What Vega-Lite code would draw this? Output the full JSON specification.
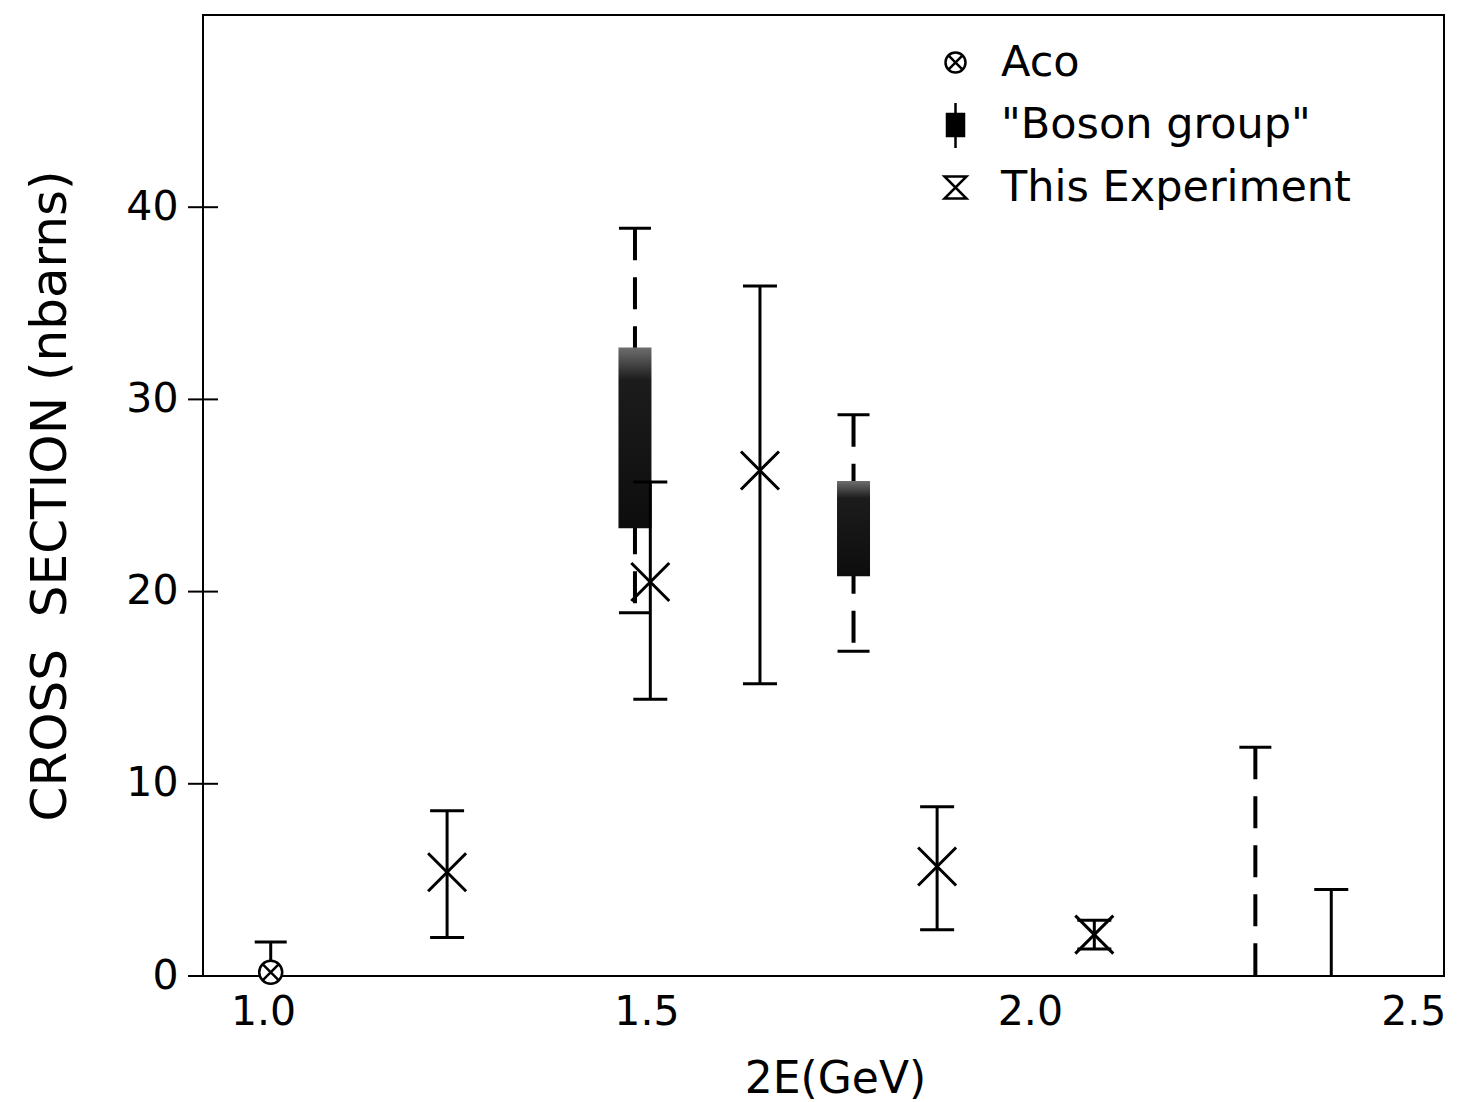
{
  "$schema": "https://vega.github.io/schema/vega-lite/v6.json",
  "width": 1241,
  "height": 961,
  "autosize": {"type": "none"},
  "padding": {"left": 203, "top": 15, "right": 18, "bottom": 126},
  "background": "white",
  "config": {
    "view": {"stroke": "black", "strokeWidth": 2},
    "font": "DejaVu Sans",
    "axis": {"domain": false, "ticks": false, "grid": false, "labelColor": "black", "titleColor": "black", "labelFont": "DejaVu Sans", "titleFont": "DejaVu Sans", "titleFontWeight": "normal"}
  },
  "datasets": {
    "yticks": [{"t": 0}, {"t": 10}, {"t": 20}, {"t": 30}, {"t": 40}],
    "aco": [{"x": 1.01, "y": 0.2, "hi": 1.77}],
    "boson": [
      {"x": 1.485, "lo": 18.9, "hi": 38.9, "blo": 23.3, "bhi": 32.7},
      {"x": 1.770, "lo": 16.9, "hi": 29.2, "blo": 20.8, "bhi": 25.75},
      {"x": 2.294, "lo": 0, "hi": 11.9}
    ],
    "exp": [
      {"x": 1.240, "y": 5.4, "lo": 2.0, "hi": 8.6},
      {"x": 1.505, "y": 20.5, "lo": 14.4, "hi": 25.7},
      {"x": 1.648, "y": 26.3, "lo": 15.2, "hi": 35.9},
      {"x": 1.879, "y": 5.7, "lo": 2.4, "hi": 8.8},
      {"x": 2.084, "y": 2.15, "lo": 1.4, "hi": 2.9},
      {"x": 2.393, "lo": 0, "hi": 4.5}
    ],
    "legend": [{"series": "Aco"}, {"series": "\"Boson group\""}, {"series": "This Experiment"}]
  },
  "layer": [
    {
      "data": {"name": "yticks"},
      "mark": {"type": "rule", "strokeWidth": 2, "color": "black"},
      "encoding": {
        "y": {"field": "t", "type": "quantitative", "scale": {"domain": [0, 50], "nice": false, "zero": false},
          "axis": {"values": [0, 10, 20, 30, 40], "title": "CROSS\u00a0 SECTION (nbarns)", "labelFontSize": 41, "labelPadding": 25, "titleFontSize": 50, "titlePadding": 50}},
        "x": {"datum": 0.9021, "type": "quantitative", "scale": {"domain": [0.9217, 2.54], "nice": false, "zero": false},
          "axis": {"values": [1.0, 1.5, 2.0, 2.5], "format": ".1f", "title": "2E(GeV)", "labelFontSize": 41, "labelPadding": 16, "titleFontSize": 44, "titlePadding": 25, "titleX": 632}},
        "x2": {"datum": 0.9413}
      }
    },
    {
      "mark": {"type": "rule", "strokeWidth": 2, "color": "black"},
      "encoding": {
        "x": {"datum": 2.5, "type": "quantitative"},
        "y": {"datum": -0.676, "type": "quantitative"},
        "y2": {"datum": 0.676}
      }
    },
    {
      "data": {"name": "boson"},
      "mark": {"type": "rule", "strokeWidth": 4, "strokeDash": [32, 17], "color": "black"},
      "encoding": {
        "x": {"field": "x", "type": "quantitative"},
        "y": {"field": "hi", "type": "quantitative"},
        "y2": {"field": "lo"}
      }
    },
    {
      "data": {"name": "boson"},
      "transform": [{"fold": ["lo", "hi"], "as": ["k", "v"]}, {"filter": "datum.v > 0"}],
      "mark": {"type": "rule", "strokeWidth": 3, "color": "black", "xOffset": -16, "x2Offset": 16},
      "encoding": {
        "x": {"field": "x", "type": "quantitative"},
        "x2": {"field": "x"},
        "y": {"field": "v", "type": "quantitative"}
      }
    },
    {
      "data": {"name": "boson"},
      "transform": [{"filter": "isValid(datum.blo)"}],
      "mark": {"type": "rect", "xOffset": -16.5, "x2Offset": 16.5,
        "fill": {"gradient": "linear", "x1": 0, "y1": 0, "x2": 0, "y2": 1, "stops": [{"offset": 0, "color": "#6e6e6e"}, {"offset": 0.18, "color": "#1c1c1c"}, {"offset": 1, "color": "#0d0d0d"}]}},
      "encoding": {
        "x": {"field": "x", "type": "quantitative"},
        "x2": {"field": "x"},
        "y": {"field": "blo", "type": "quantitative"},
        "y2": {"field": "bhi"}
      }
    },
    {
      "data": {"name": "exp"},
      "mark": {"type": "rule", "strokeWidth": 3, "color": "black"},
      "encoding": {
        "x": {"field": "x", "type": "quantitative"},
        "y": {"field": "lo", "type": "quantitative"},
        "y2": {"field": "hi"}
      }
    },
    {
      "data": {"name": "exp"},
      "transform": [{"fold": ["lo", "hi"], "as": ["k", "v"]}, {"filter": "datum.v > 0"}],
      "mark": {"type": "rule", "strokeWidth": 3, "color": "black", "xOffset": -17, "x2Offset": 17},
      "encoding": {
        "x": {"field": "x", "type": "quantitative"},
        "x2": {"field": "x"},
        "y": {"field": "v", "type": "quantitative"}
      }
    },
    {
      "data": {"name": "exp"},
      "transform": [{"filter": "isValid(datum.y)"}],
      "mark": {"type": "point", "shape": "M-1,-1L1,1M-1,1L1,-1", "size": 1444, "strokeWidth": 3, "filled": false, "color": "black", "opacity": 1},
      "encoding": {
        "x": {"field": "x", "type": "quantitative"},
        "y": {"field": "y", "type": "quantitative"}
      }
    },
    {
      "data": {"name": "aco"},
      "mark": {"type": "rule", "strokeWidth": 3, "color": "black"},
      "encoding": {
        "x": {"field": "x", "type": "quantitative"},
        "y": {"field": "y", "type": "quantitative"},
        "y2": {"field": "hi"}
      }
    },
    {
      "data": {"name": "aco"},
      "mark": {"type": "rule", "strokeWidth": 3, "color": "black", "xOffset": -16, "x2Offset": 16},
      "encoding": {
        "x": {"field": "x", "type": "quantitative"},
        "x2": {"field": "x"},
        "y": {"field": "hi", "type": "quantitative"}
      }
    },
    {
      "data": {"name": "aco"},
      "mark": {"type": "point", "shape": "M1,0A1,1,0,1,1,-1,0A1,1,0,1,1,1,0ZM-0.7071,-0.7071L0.7071,0.7071M-0.7071,0.7071L0.7071,-0.7071", "size": 529, "strokeWidth": 2.5, "filled": true, "fill": "white", "stroke": "black", "opacity": 1},
      "encoding": {
        "x": {"field": "x", "type": "quantitative"},
        "y": {"field": "y", "type": "quantitative"}
      }
    },
    {
      "data": {"name": "legend"},
      "mark": {"type": "point", "opacity": 0, "filled": false, "color": "black", "strokeWidth": 2.5},
      "encoding": {
        "shape": {"field": "series", "type": "nominal",
          "scale": {"domain": ["Aco", "\"Boson group\"", "This Experiment"],
            "range": [
              "M1,0A1,1,0,1,1,-1,0A1,1,0,1,1,1,0ZM-0.7071,-0.7071L0.7071,0.7071M-0.7071,0.7071L0.7071,-0.7071",
              "M-0.85,-1.1H0.85V1.1H-0.85ZM-0.65,-1.1V1.1M-0.45,-1.1V1.1M-0.25,-1.1V1.1M-0.05,-1.1V1.1M0.15,-1.1V1.1M0.35,-1.1V1.1M0.55,-1.1V1.1M0.72,-1.1V1.1M0,-2.2V2.3",
              "M-1.1,-1.1H1.1L-1.1,1.1H1.1Z"
            ]},
          "legend": {"title": null, "orient": "none", "legendX": 731, "legendY": 26, "padding": 0, "labelFontSize": 43, "labelFont": "DejaVu Sans", "labelColor": "black", "labelLimit": 600, "symbolSize": 400, "symbolStrokeWidth": 2.5, "symbolStrokeColor": "black", "symbolFillColor": "transparent", "rowPadding": 12.5, "labelOffset": 24}}
      }
    }
  ]
}
